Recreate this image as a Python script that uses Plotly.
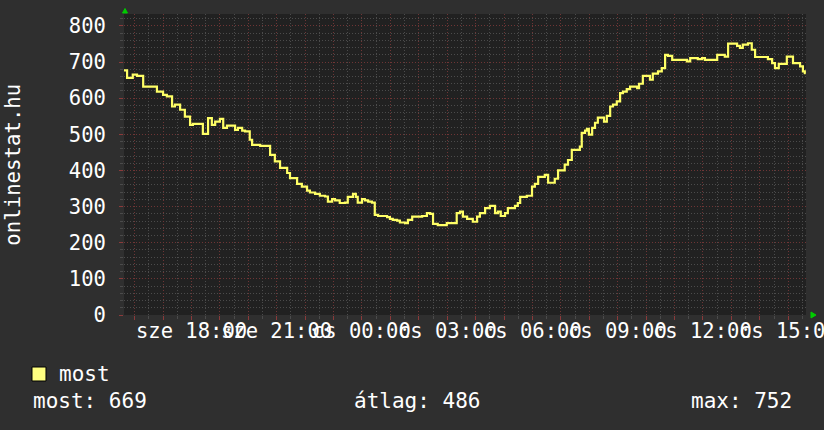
import plotly.graph_objects as go

# onlinestat.hu - users online over one day (rrdtool style)
times = [
    "2024-01-03 15:37", "2024-01-03 15:44", "2024-01-03 15:56", "2024-01-03 16:05",
    "2024-01-03 16:18", "2024-01-03 16:47", "2024-01-03 17:00", "2024-01-03 17:08",
    "2024-01-03 17:19", "2024-01-03 17:25", "2024-01-03 17:36", "2024-01-03 17:46",
    "2024-01-03 17:57", "2024-01-03 18:03", "2024-01-03 18:24", "2024-01-03 18:35",
    "2024-01-03 18:43", "2024-01-03 18:50", "2024-01-03 19:00", "2024-01-03 19:07",
    "2024-01-03 19:15", "2024-01-03 19:32", "2024-01-03 19:38", "2024-01-03 19:47",
    "2024-01-03 19:53", "2024-01-03 20:03", "2024-01-03 20:08", "2024-01-03 20:25",
    "2024-01-03 20:46", "2024-01-03 20:56", "2024-01-03 21:07", "2024-01-03 21:22",
    "2024-01-03 21:28", "2024-01-03 21:43", "2024-01-03 21:53", "2024-01-03 22:04",
    "2024-01-03 22:10", "2024-01-03 22:21", "2024-01-03 22:31", "2024-01-03 22:42",
    "2024-01-03 22:48", "2024-01-03 22:57", "2024-01-03 23:03", "2024-01-03 23:13",
    "2024-01-03 23:24", "2024-01-03 23:30", "2024-01-03 23:41", "2024-01-03 23:47",
    "2024-01-03 23:51", "2024-01-04 00:00", "2024-01-04 00:06", "2024-01-04 00:13",
    "2024-01-04 00:21", "2024-01-04 00:27", "2024-01-04 00:34", "2024-01-04 00:53",
    "2024-01-04 00:59", "2024-01-04 01:05", "2024-01-04 01:14", "2024-01-04 01:20",
    "2024-01-04 01:31", "2024-01-04 01:37", "2024-01-04 01:46", "2024-01-04 02:07",
    "2024-01-04 02:17", "2024-01-04 02:24", "2024-01-04 02:30", "2024-01-04 02:40",
    "2024-01-04 02:59", "2024-01-04 03:20", "2024-01-04 03:27", "2024-01-04 03:33",
    "2024-01-04 03:42", "2024-01-04 03:54", "2024-01-04 04:03", "2024-01-04 04:09",
    "2024-01-04 04:20", "2024-01-04 04:30", "2024-01-04 04:41", "2024-01-04 04:47",
    "2024-01-04 04:53", "2024-01-04 05:02", "2024-01-04 05:08", "2024-01-04 05:23",
    "2024-01-04 05:29", "2024-01-04 05:34", "2024-01-04 05:48", "2024-01-04 05:59",
    "2024-01-04 06:05", "2024-01-04 06:12", "2024-01-04 06:26", "2024-01-04 06:33",
    "2024-01-04 06:47", "2024-01-04 06:54", "2024-01-04 07:08", "2024-01-04 07:15",
    "2024-01-04 07:23", "2024-01-04 07:40", "2024-01-04 07:44", "2024-01-04 07:51",
    "2024-01-04 07:55", "2024-01-04 07:59", "2024-01-04 08:06", "2024-01-04 08:12",
    "2024-01-04 08:18", "2024-01-04 08:31", "2024-01-04 08:37", "2024-01-04 08:44",
    "2024-01-04 08:50", "2024-01-04 08:58", "2024-01-04 09:05", "2024-01-04 09:11",
    "2024-01-04 09:19", "2024-01-04 09:26", "2024-01-04 09:41", "2024-01-04 09:45",
    "2024-01-04 09:53", "2024-01-04 10:08", "2024-01-04 10:14", "2024-01-04 10:25",
    "2024-01-04 10:33", "2024-01-04 10:40", "2024-01-04 10:46", "2024-01-04 10:55",
    "2024-01-04 11:18", "2024-01-04 11:26", "2024-01-04 11:33", "2024-01-04 11:49",
    "2024-01-04 11:58", "2024-01-04 12:04", "2024-01-04 12:30", "2024-01-04 12:46",
    "2024-01-04 12:53", "2024-01-04 13:12", "2024-01-04 13:18", "2024-01-04 13:24",
    "2024-01-04 13:35", "2024-01-04 13:43", "2024-01-04 13:50", "2024-01-04 14:11",
    "2024-01-04 14:17", "2024-01-04 14:26", "2024-01-04 14:32", "2024-01-04 14:40",
    "2024-01-04 14:57", "2024-01-04 15:10", "2024-01-04 15:25", "2024-01-04 15:31",
    "2024-01-04 15:35", "2024-01-04 15:37",
]
users = [
    677, 656, 665, 662, 632, 618, 609, 605, 577, 582, 568, 549, 526, 529, 501, 545,
    526, 535, 543, 518, 524, 512, 518, 510, 508, 485, 471, 468, 443, 425, 407, 393,
    379, 363, 355, 344, 339, 335, 330, 328, 314, 321, 317, 310, 311, 327, 335, 327,
    311, 321, 317, 314, 311, 277, 274, 271, 266, 263, 261, 256, 254, 263, 272, 274,
    282, 280, 252, 249, 254, 282, 286, 272, 266, 258, 272, 282, 296, 302, 282, 286,
    274, 282, 296, 302, 310, 327, 330, 355, 363, 382, 388, 366, 377, 400, 416, 429,
    457, 466, 504, 510, 515, 499, 518, 532, 546, 535, 551, 577, 582, 591, 614, 618,
    625, 632, 628, 640, 662, 651, 668, 674, 683, 720, 717, 706, 706, 702, 711, 708,
    711, 706, 720, 715, 751, 745, 739, 748, 752, 734, 714, 714, 708, 697, 683, 695,
    715, 697, 688, 674, 669, 669,
]

tick_times = [
    "2024-01-03 18:00", "2024-01-03 21:00", "2024-01-04 00:00", "2024-01-04 03:00",
    "2024-01-04 06:00", "2024-01-04 09:00", "2024-01-04 12:00", "2024-01-04 15:00",
]
tick_labels = [
    "sze 18:00", "sze 21:00", "cs 00:00", "cs 03:00",
    "cs 06:00", "cs 09:00", "cs 12:00", "cs 15:00",
]
x_start = "2024-01-03 15:37:30"
x_end = "2024-01-04 15:37:30"

stat_labels = ["most: 669", "átlag: 486", "max: 752"]

FONT = "DejaVu Sans Mono"
BG = "#2f2f2f"
PLOT_BG = "#212121"
RED_GRID = "#6e3535"
GRAY_GRID = "#4b4b4b"
YELLOW = "#ffff66"

fig = go.Figure()
fig.add_trace(go.Scatter(
    x=times, y=users, mode="lines", line_shape="hv",
    line=dict(color=YELLOW, width=2.2), hoverinfo="skip", showlegend=False,
))

annotations = []
for t, lab in zip(tick_times, tick_labels):
    annotations.append(dict(
        x=t, y=0, xref="x", yref="paper", text=lab, showarrow=False,
        xanchor="center", yanchor="middle", yshift=-16,
        font=dict(family=FONT, size=20.5, color="#ffffff"),
    ))

# y axis title
annotations.append(dict(
    x=-0.164, y=0.5, xref="paper", yref="paper", text="onlinestat.hu",
    textangle=-90, showarrow=False, xanchor="center", yanchor="middle",
    font=dict(family=FONT, size=20.7, color="#ffffff"),
))

# legend + statistics row
annotations.append(dict(
    x=-0.098, y=-0.196, xref="paper", yref="paper", text="most", showarrow=False,
    xanchor="left", yanchor="middle", font=dict(family=FONT, size=21, color="#ffffff"),
))
stat_pos = [(-0.136, "left"), (0.335, "left"), (0.982, "right")]
for lab, (px, anchor) in zip(stat_labels, stat_pos):
    annotations.append(dict(
        x=px, y=-0.285, xref="paper", yref="paper", text=lab, showarrow=False,
        xanchor=anchor, yanchor="middle", font=dict(family=FONT, size=21, color="#ffffff"),
    ))

shapes = [
    # legend swatch
    dict(type="rect", xref="paper", yref="paper", x0=-0.1349, x1=-0.1144,
         y0=-0.1728, y1=-0.2193, fillcolor="#ffff80", line=dict(color="#000000", width=1)),
    # green axis arrows
    dict(type="path", xref="paper", yref="paper",
         path="M 0.0015 1.0183 L -0.0022 1.0033 L 0.0051 1.0033 Z",
         fillcolor="#00cc00", line=dict(color="#00cc00", width=1)),
    dict(type="path", xref="paper", yref="paper",
         path="M 1.0147 0 L 1.0073 0.0100 L 1.0073 -0.0100 Z",
         fillcolor="#00cc00", line=dict(color="#00cc00", width=1)),
]

fig.update_layout(
    width=824, height=430,
    margin=dict(l=124, r=18, t=14, b=115),
    paper_bgcolor=BG, plot_bgcolor=PLOT_BG,
    showlegend=False, hovermode=False,
    annotations=annotations, shapes=shapes,
    xaxis=dict(
        type="date", range=[x_start, x_end], showticklabels=False,
        tick0="2024-01-03 00:00", dtick=3600000,
        showgrid=True, gridcolor=RED_GRID, griddash="1px,2px", gridwidth=1,
        minor=dict(dtick=1800000, showgrid=True, gridcolor=GRAY_GRID,
                   griddash="1px,2px", gridwidth=1,
                   ticks="outside", ticklen=3, tickcolor=GRAY_GRID),
        ticks="outside", ticklen=4, tickcolor="#8a3a3a",
        zeroline=False, showline=False, fixedrange=True,
    ),
    yaxis=dict(
        range=[0, 833], tick0=0, dtick=100,
        showgrid=True, gridcolor=RED_GRID, griddash="1px,2px", gridwidth=1,
        minor=dict(dtick=20, showgrid=True, gridcolor=GRAY_GRID,
                   griddash="1px,2px", gridwidth=1,
                   ticks="outside", ticklen=3, tickcolor=GRAY_GRID),
        ticks="outside", ticklen=4, tickcolor="#8a3a3a",
        ticklabelstandoff=9,
        tickfont=dict(family=FONT, size=20.5, color="#ffffff"),
        zeroline=False, showline=False, fixedrange=True,
    ),
)

fig.write_html(
    "out.html",
    config={"displayModeBar": False},
    post_script="document.body.style.margin='0';document.body.style.background='%s';" % BG,
)
